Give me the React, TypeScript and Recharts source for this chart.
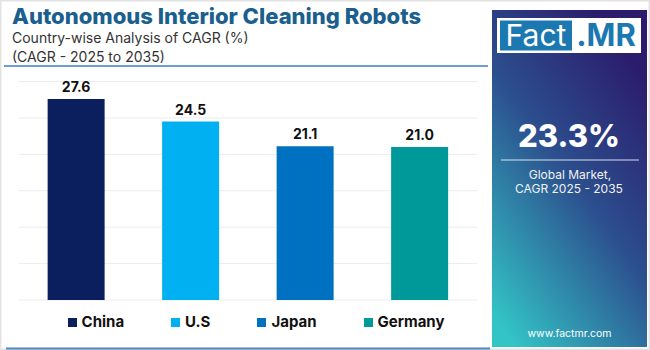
import React from "react";
import { BarChart, Bar, XAxis, YAxis, CartesianGrid, Cell, LabelList } from "recharts";

const countries = ["China", "U.S", "Japan", "Germany"];
const cagr = [27.6, 24.5, 21.1, 21.0];
const colors = ["#0b1f5e", "#00b0f0", "#0070c0", "#009999"];
const yTicks = [0, 5, 10, 15, 20, 25, 30];
const title = "Autonomous Interior Cleaning Robots";
const subtitle1 = "Country-wise Analysis of CAGR (%)";
const subtitle2 = "(CAGR - 2025 to 2035)";
const globalValue = "23.3%";
const globalLabel1 = "Global Market,";
const globalLabel2 = "CAGR 2025 - 2035";
const website = "www.factmr.com";

const data = countries.map((c, i) => ({ country: c, value: cagr[i] }));

const FONT = "Inter, 'Open Sans', sans-serif";

export default function App() {
  return (
    <div
      style={{
        position: "absolute",
        left: 0,
        top: 0,
        width: 650,
        height: 350,
        background: "#ffffff",
        overflow: "hidden",
        fontFamily: FONT,
      }}
    >
      <div style={{ position: "absolute", left: 0, top: 0 }}>
        <BarChart
          width={490}
          height={350}
          data={data}
          margin={{ top: 81.5, right: 13, left: 19, bottom: 50 }}
          barCategoryGap="25%"
        >
          <CartesianGrid vertical={false} stroke="#ececec" strokeWidth={1} />
          <XAxis dataKey="country" hide />
          <YAxis hide domain={[0, 30]} ticks={yTicks} />
          <Bar dataKey="value" isAnimationActive={false}>
            {data.map((d, i) => (
              <Cell key={d.country} fill={colors[i]} />
            ))}
            <LabelList
              dataKey="value"
              position="top"
              offset={7}
              formatter={(v: number) => v.toFixed(1)}
              style={{ fontFamily: FONT, fontSize: 14, fontWeight: 700, fill: "#111111" }}
            />
          </Bar>
        </BarChart>
      </div>

      <svg
        width={650}
        height={350}
        style={{ position: "absolute", left: 0, top: 0, pointerEvents: "none" }}
      >
        <defs>
          <linearGradient id="panelGrad" x1="0.75" y1="0.05" x2="0.15" y2="1">
            <stop offset="0" stopColor="#2b1c6c" />
            <stop offset="0.45" stopColor="#2c4f8e" />
            <stop offset="1" stopColor="#33c4c6" />
          </linearGradient>
        </defs>
        <rect x={0.75} y={0.75} width={648.5} height={348.5} fill="none" stroke="#e3e3e3" strokeWidth={1.5} />
        <text x={12} y={23.5} fontFamily={FONT} fontSize={22} fontWeight={800} fill="#1a5f8e">
          {title}
        </text>
        <text x={12} y={42.5} fontFamily={FONT} fontSize={14} fill="#333333">
          {subtitle1}
        </text>
        <text x={12} y={61.5} fontFamily={FONT} fontSize={14} fill="#333333">
          {subtitle2}
        </text>
        <line x1={4} y1={66} x2={488} y2={66} stroke="#3c7fc0" strokeWidth={1.5} />
        <line x1={6} y1={348.5} x2={490} y2={348.5} stroke="#4a86c0" strokeWidth={2} />

        <rect x={492} y={10} width={155} height={337} fill="url(#panelGrad)" />
        <rect x={497} y={18} width={144} height={35} fill="#ffffff" />
        <rect x={500} y={20.5} width={72} height={30} fill="#1c78b0" />
        <text x={536} y={46} textAnchor="middle" fontFamily={FONT} fontSize={30} fontWeight={400} fill="#ffffff">
          Fact
        </text>
        <text x={606} y={46} textAnchor="middle" fontFamily={FONT} fontSize={31} fontWeight={700} fill="#1c78b0">
          .MR
        </text>
        <text x={569} y={146.5} textAnchor="middle" fontFamily={FONT} fontSize={31} fontWeight={800} fill="#ffffff">
          {globalValue}
        </text>
        <line x1={501} y1={160} x2={639} y2={160} stroke="#ffffff" strokeOpacity={0.55} strokeWidth={1.5} />
        <text x={570} y={178.5} textAnchor="middle" fontFamily={FONT} fontSize={12} fill="#f2f2f2">
          {globalLabel1}
        </text>
        <text x={569} y={193} textAnchor="middle" fontFamily={FONT} fontSize={12} fill="#f2f2f2">
          {globalLabel2}
        </text>
        <text x={569.5} y={336.5} textAnchor="middle" fontFamily={FONT} fontSize={10.5} fill="#ffffff">
          {website}
        </text>
      </svg>

      <div
        style={{
          position: "absolute",
          left: 0,
          top: 314,
          width: 512,
          display: "flex",
          justifyContent: "center",
          alignItems: "center",
          gap: 47,
          lineHeight: "16px",
        }}
      >
        {countries.map((c, i) => (
          <div key={c} style={{ display: "flex", alignItems: "center" }}>
            <div style={{ width: 9, height: 9, background: colors[i], marginRight: 5 }} />
            <span style={{ fontSize: 15, fontWeight: 700, color: "#111111", fontFamily: FONT }}>{c}</span>
          </div>
        ))}
      </div>
    </div>
  );
}
